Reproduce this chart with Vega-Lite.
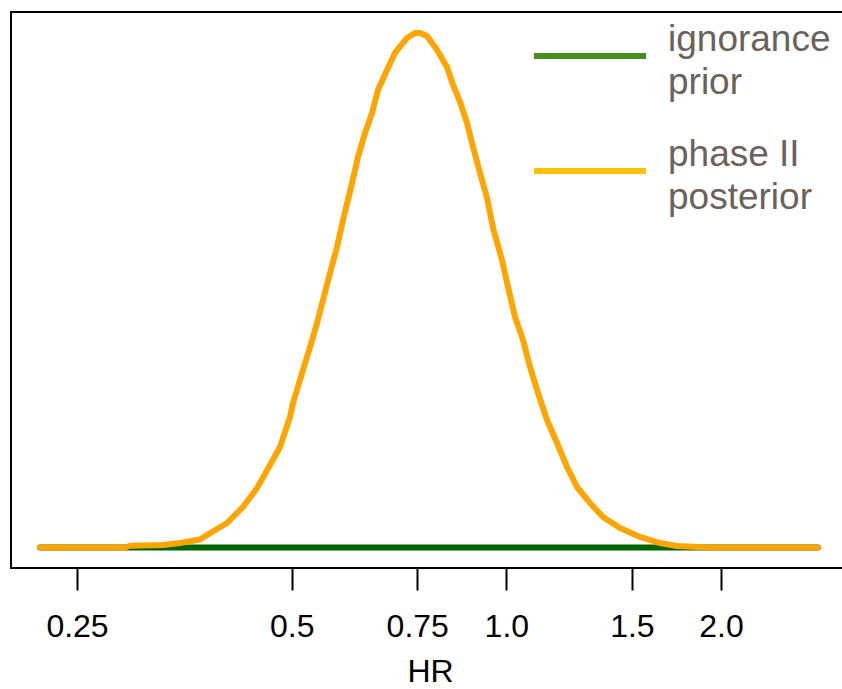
{
  "$schema": "https://vega.github.io/schema/vega-lite/v6.json",
  "autosize": "none",
  "width": 838,
  "height": 556,
  "padding": {"left": 11, "top": 12, "right": 0, "bottom": 121},
  "background": "white",
  "config": {
    "view": {"stroke": "#000000", "strokeWidth": 2},
    "font": "Liberation Sans"
  },
  "data": {
    "values": [
      {"series": "prior", "HR": 0.2218, "density": 0},
      {"series": "prior", "HR": 2.735, "density": 0},
      {"series": "posterior", "HR": 0.2218, "density": 0},
      {"series": "posterior", "HR": 0.2919, "density": 0},
      {"series": "posterior", "HR": 0.2967, "density": 0.0056},
      {"series": "posterior", "HR": 0.330, "density": 0.0078},
      {"series": "posterior", "HR": 0.3487, "density": 0.014},
      {"series": "posterior", "HR": 0.3719, "density": 0.0249},
      {"series": "posterior", "HR": 0.3804, "density": 0.0389},
      {"series": "posterior", "HR": 0.4058, "density": 0.0762},
      {"series": "posterior", "HR": 0.4273, "density": 0.126},
      {"series": "posterior", "HR": 0.4471, "density": 0.185},
      {"series": "posterior", "HR": 0.4662, "density": 0.2565},
      {"series": "posterior", "HR": 0.4815, "density": 0.3125},
      {"series": "posterior", "HR": 0.4973, "density": 0.4058},
      {"series": "posterior", "HR": 0.5022, "density": 0.4493},
      {"series": "posterior", "HR": 0.517, "density": 0.5426},
      {"series": "posterior", "HR": 0.5305, "density": 0.6234},
      {"series": "posterior", "HR": 0.5426, "density": 0.6981},
      {"series": "posterior", "HR": 0.5532, "density": 0.7696},
      {"series": "posterior", "HR": 0.5659, "density": 0.8535},
      {"series": "posterior", "HR": 0.5788, "density": 0.9344},
      {"series": "posterior", "HR": 0.5902, "density": 1.0184},
      {"series": "posterior", "HR": 0.6076, "density": 1.1334},
      {"series": "posterior", "HR": 0.6194, "density": 1.2143},
      {"series": "posterior", "HR": 0.6336, "density": 1.2889},
      {"series": "posterior", "HR": 0.6481, "density": 1.3511},
      {"series": "posterior", "HR": 0.6607, "density": 1.4226},
      {"series": "posterior", "HR": 0.6802, "density": 1.4848},
      {"series": "posterior", "HR": 0.698, "density": 1.5376},
      {"series": "posterior", "HR": 0.7256, "density": 1.5843},
      {"series": "posterior", "HR": 0.7446, "density": 1.5998},
      {"series": "posterior", "HR": 0.7567, "density": 1.5998},
      {"series": "posterior", "HR": 0.774, "density": 1.5905},
      {"series": "posterior", "HR": 0.7994, "density": 1.547},
      {"series": "posterior", "HR": 0.8256, "density": 1.4941},
      {"series": "posterior", "HR": 0.8418, "density": 1.4381},
      {"series": "posterior", "HR": 0.8611, "density": 1.3853},
      {"series": "posterior", "HR": 0.8807, "density": 1.32},
      {"series": "posterior", "HR": 0.898, "density": 1.2454},
      {"series": "posterior", "HR": 0.9185, "density": 1.1645},
      {"series": "posterior", "HR": 0.9395, "density": 1.0868},
      {"series": "posterior", "HR": 0.9578, "density": 0.9935},
      {"series": "posterior", "HR": 0.9861, "density": 0.894},
      {"series": "posterior", "HR": 1.0054, "density": 0.81},
      {"series": "posterior", "HR": 1.0284, "density": 0.7167},
      {"series": "posterior", "HR": 1.0553, "density": 0.6452},
      {"series": "posterior", "HR": 1.0794, "density": 0.5613},
      {"series": "posterior", "HR": 1.1076, "density": 0.4804},
      {"series": "posterior", "HR": 1.1403, "density": 0.3965},
      {"series": "posterior", "HR": 1.1777, "density": 0.325},
      {"series": "posterior", "HR": 1.2164, "density": 0.2503},
      {"series": "posterior", "HR": 1.2563, "density": 0.1881},
      {"series": "posterior", "HR": 1.3101, "density": 0.1384},
      {"series": "posterior", "HR": 1.3663, "density": 0.0948},
      {"series": "posterior", "HR": 1.4434, "density": 0.0606},
      {"series": "posterior", "HR": 1.5397, "density": 0.0327},
      {"series": "posterior", "HR": 1.6425, "density": 0.014},
      {"series": "posterior", "HR": 1.735, "density": 0.0047},
      {"series": "posterior", "HR": 1.9302, "density": 0},
      {"series": "posterior", "HR": 2.735, "density": 0}
    ]
  },
  "encoding": {
    "x": {
      "field": "HR",
      "type": "quantitative",
      "scale": {"type": "log", "domain": [0.202, 3.0235], "nice": false, "zero": false},
      "axis": {
        "title": "HR",
        "values": [0.25, 0.5, 0.75, 1, 1.5, 2],
        "labelExpr": "datum.value == 1 ? '1.0' : datum.value == 2 ? '2.0' : datum.label",
        "grid": false,
        "domain": false,
        "tickSize": 22,
        "tickWidth": 2,
        "tickColor": "#000000",
        "labelFont": "Liberation Sans",
        "labelFontSize": 32,
        "labelColor": "#000000",
        "labelPadding": 21,
        "labelFlush": false,
        "titleFont": "Liberation Sans",
        "titleFontSize": 32,
        "titleFontWeight": "normal",
        "titleColor": "#000000",
        "titlePadding": 14
      }
    },
    "y": {
      "field": "density",
      "type": "quantitative",
      "scale": {"domain": [-0.0637, 1.665], "nice": false, "zero": false},
      "axis": null
    }
  },
  "layer": [
    {
      "transform": [{"filter": "datum.series == 'prior'"}],
      "mark": {"type": "line", "stroke": "#006400", "strokeWidth": 6, "strokeCap": "round"}
    },
    {
      "transform": [{"filter": "datum.series == 'posterior'"}],
      "mark": {"type": "line", "stroke": "#FFA500", "strokeWidth": 6, "strokeCap": "round", "strokeJoin": "round"}
    },
    {
      "mark": {"type": "line", "opacity": 0, "strokeWidth": 6},
      "encoding": {
        "color": {
          "field": "series",
          "type": "nominal",
          "scale": {"domain": ["prior", "posterior"], "range": ["#4b8a1f", "#ffc000"]},
          "legend": {
            "title": null,
            "orient": "none",
            "legendX": 520,
            "legendY": -15,
            "padding": 0,
            "symbolType": "stroke",
            "symbolSize": 12544,
            "symbolStrokeWidth": 6,
            "symbolOpacity": 1,
            "labelExpr": "datum.value == 'prior' ? ['ignorance', 'prior'] : ['phase II', 'posterior']",
            "labelFont": "Liberation Sans",
            "labelFontSize": 37,
            "labelColor": "#6b6259",
            "labelBaseline": "alphabetic",
            "labelOffset": 19,
            "labelLimit": 400,
            "rowPadding": 11,
            "encode": {"labels": {"update": {"lineHeight": {"value": 43}, "dy": {"value": -5}}}}
          }
        }
      }
    }
  ]
}
